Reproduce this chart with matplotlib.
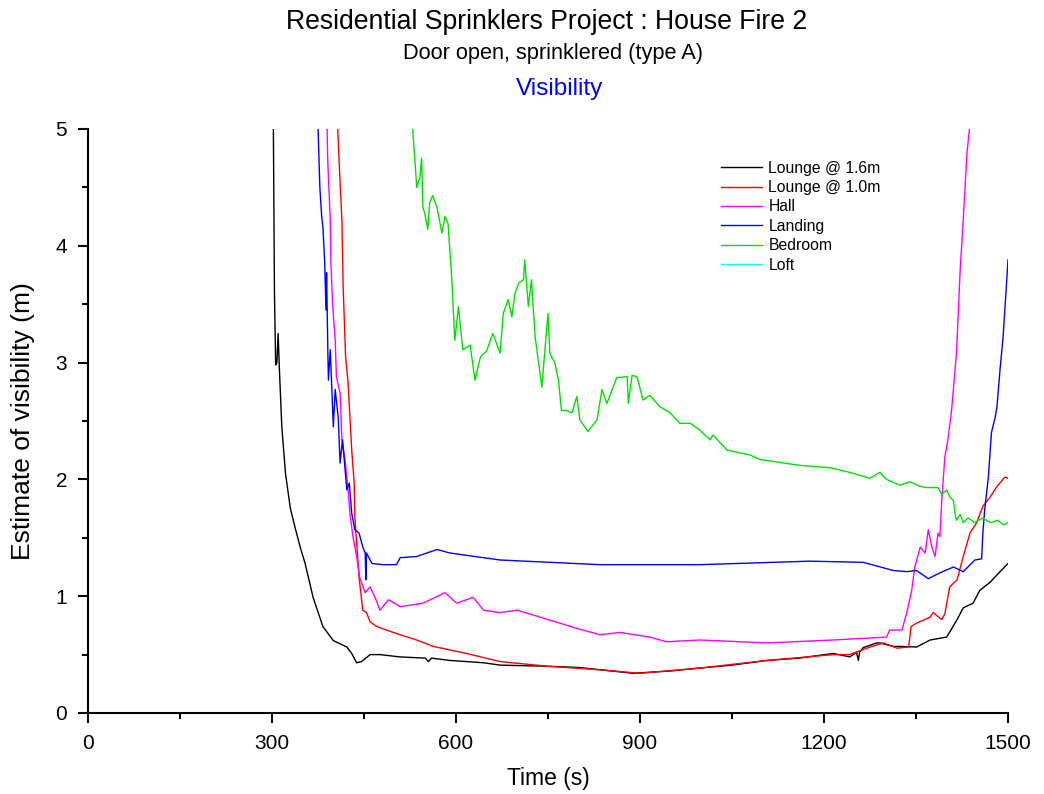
import numpy as np
import matplotlib
matplotlib.use("Agg")
import matplotlib.pyplot as plt
from matplotlib.ticker import MultipleLocator

plt.rcParams['font.family'] = ['Liberation Sans', 'DejaVu Sans']

# values (time in s, visibility in m)
lounge16_t = [302, 304, 306, 308, 310, 312, 316, 322, 330, 338, 346, 354, 367, 383, 400, 422, 430,
              438, 446, 460, 476, 509, 550, 555, 560, 590, 645, 672, 750, 800, 835, 889, 950,
              998, 1050, 1107, 1160, 1215, 1242, 1253, 1256, 1258, 1264, 1286, 1291, 1313, 1324,
              1351, 1373, 1400, 1417, 1427, 1443, 1454, 1471, 1487, 1500]
lounge16_v = [5.2, 3.6, 2.98, 3.0, 3.25, 2.95, 2.45, 2.05, 1.75, 1.58, 1.42, 1.28, 0.99, 0.74, 0.62,
              0.565, 0.51, 0.43, 0.44, 0.50, 0.50, 0.48, 0.47, 0.44, 0.47, 0.45, 0.43, 0.41, 0.40,
              0.39, 0.37, 0.34, 0.36, 0.385, 0.41, 0.45, 0.47, 0.51, 0.48, 0.52, 0.45, 0.52, 0.56,
              0.60, 0.60, 0.57, 0.57, 0.565, 0.625, 0.65, 0.80, 0.90, 0.94, 1.05, 1.12, 1.21, 1.28]

lounge10_t = [405, 408, 411, 414, 416, 420, 424, 430, 434, 435, 438, 442, 448, 454, 460, 471, 503,
              536, 563, 617, 672, 750, 835, 900, 998, 1107, 1215, 1242, 1275, 1297, 1319, 1338,
              1342, 1351, 1373, 1378, 1392, 1397, 1405, 1417, 1427, 1438, 1449, 1459, 1471, 1482,
              1495, 1500]
lounge10_v = [5.3, 4.9, 4.54, 4.22, 3.65, 3.05, 2.83, 2.25, 1.97, 1.68, 1.46, 1.16, 0.88, 0.86,
              0.78, 0.74, 0.68, 0.625, 0.57, 0.51, 0.44, 0.40, 0.37, 0.34, 0.385, 0.45, 0.50, 0.50,
              0.565, 0.60, 0.555, 0.565, 0.74, 0.77, 0.82, 0.86, 0.80, 0.85, 1.08, 1.14, 1.34, 1.54,
              1.63, 1.77, 1.85, 1.94, 2.02, 2.01]

hall_t = [389, 391, 395, 396, 399, 403, 405, 411, 414, 419, 424, 427, 432, 438, 443, 452, 460, 468,
          476, 490, 509, 546, 582, 601, 628, 645, 672, 700, 750, 800, 835, 867, 916, 943, 998,
          1107, 1215, 1302, 1307, 1327, 1335, 1343, 1348, 1357, 1365, 1370, 1376, 1381, 1386,
          1389, 1392, 1397, 1402, 1408, 1416, 1422, 1427, 1433, 1437, 1441]
hall_v = [5.2, 4.71, 4.22, 3.85, 3.48, 3.2, 2.88, 2.74, 2.34, 2.17, 1.91, 1.71, 1.51, 1.34, 1.16,
          1.03, 1.08, 0.99, 0.88, 0.97, 0.91, 0.94, 1.03, 0.94, 0.99, 0.88, 0.86, 0.88, 0.80, 0.72,
          0.67, 0.69, 0.65, 0.61, 0.625, 0.60, 0.625, 0.65, 0.71, 0.71, 0.86, 1.05, 1.25, 1.42,
          1.37, 1.57, 1.42, 1.34, 1.54, 1.51, 1.82, 2.19, 2.34, 2.59, 3.08, 3.79, 4.22, 4.79,
          4.99, 5.2]

landing_t = [374, 378, 381, 383, 386, 388, 389, 391, 392, 395, 400, 403, 408, 411, 415, 422, 426,
             430, 435, 442, 448, 452, 453, 454, 463, 481, 503, 509, 536, 569, 590, 617, 672,
             835, 998, 1177, 1264, 1313, 1335, 1351, 1370, 1389, 1411, 1427, 1446, 1457, 1459,
             1462, 1468, 1473, 1479, 1482, 1487, 1492, 1498, 1500]
landing_v = [5.2, 4.50, 4.25, 4.16, 3.85, 3.45, 3.77, 3.11, 2.85, 3.11, 2.45, 2.77, 2.53, 2.14,
             2.34, 1.91, 1.97, 1.71, 1.57, 1.54, 1.42, 1.37, 1.14, 1.37, 1.28, 1.27, 1.27, 1.33,
             1.34, 1.40, 1.37, 1.35, 1.31, 1.27, 1.27, 1.30, 1.29, 1.22, 1.21, 1.22, 1.15, 1.20,
             1.25, 1.21, 1.31, 1.32, 1.54, 1.74, 2.02, 2.40, 2.53, 2.62, 2.94, 3.22, 3.71, 3.88]

bedroom_t = [529, 533, 536, 541, 544, 546, 549, 554, 557, 562, 569, 577, 582, 587, 593, 598, 604,
             611, 623, 631, 640, 650, 660, 672, 677, 685, 691, 696, 702, 710, 712, 718, 723, 729,
             740, 748, 750, 753, 761, 767, 772, 780, 789, 797, 802, 815, 830, 838, 846, 862, 879,
             881, 887, 895, 905, 916, 933, 949, 965, 982, 998, 1014, 1019, 1042, 1079, 1096, 1161,
             1210, 1242, 1275, 1291, 1302, 1324, 1340, 1357, 1367, 1386, 1392, 1400, 1405, 1411,
             1414, 1416, 1422, 1427, 1435, 1446, 1459, 1471, 1484, 1492, 1500]
bedroom_v = [5.02, 4.73, 4.50, 4.58, 4.75, 4.33, 4.28, 4.14, 4.37, 4.43, 4.33, 4.11, 4.25, 4.19,
             3.73, 3.19, 3.48, 3.11, 3.15, 2.85, 3.05, 3.10, 3.25, 3.08, 3.42, 3.54, 3.39, 3.59,
             3.68, 3.71, 3.88, 3.48, 3.71, 3.22, 2.79, 3.30, 3.42, 3.08, 3.00, 2.85, 2.59, 2.59,
             2.57, 2.71, 2.51, 2.41, 2.51, 2.77, 2.65, 2.87, 2.88, 2.65, 2.89, 2.88, 2.68, 2.72,
             2.62, 2.57, 2.48, 2.48, 2.42, 2.34, 2.38, 2.25, 2.21, 2.17, 2.12, 2.10, 2.06, 2.01,
             2.06, 2.00, 1.95, 1.98, 1.94, 1.93, 1.93, 1.87, 1.91, 1.85, 1.82, 1.70, 1.65, 1.70,
             1.63, 1.67, 1.63, 1.67, 1.63, 1.65, 1.61, 1.63]

loft_t = []
loft_v = []

names = ['Lounge @ 1.6m', 'Lounge @ 1.0m', 'Hall', 'Landing', 'Bedroom', 'Loft']
colors = ['black', 'red', 'magenta', 'blue', '#00e000', 'cyan']
series = [(lounge16_t, lounge16_v), (lounge10_t, lounge10_v), (hall_t, hall_v),
          (landing_t, landing_v), (bedroom_t, bedroom_v), (loft_t, loft_v)]

fig = plt.figure(figsize=(10.44, 7.94), dpi=100)
ax = fig.add_axes([88/1044, 1-713/794, 920/1044, 584/794])

for (t, v), name, c in zip(series, names, colors):
    ax.plot(t, v, color=c, lw=1.0, label=name)

ax.set_xlim(0, 1500)
ax.set_ylim(0, 5)
ax.xaxis.set_major_locator(MultipleLocator(300))
ax.xaxis.set_minor_locator(MultipleLocator(150))
ax.yaxis.set_major_locator(MultipleLocator(1))
ax.yaxis.set_minor_locator(MultipleLocator(0.5))
ax.tick_params(which='major', direction='out', length=7, width=1.5, labelsize=15, pad=8)
ax.tick_params(which='minor', direction='out', length=4, width=1.5)
for s in ['top', 'right']:
    ax.spines[s].set_visible(False)
for s in ['left', 'bottom']:
    ax.spines[s].set_linewidth(1.5)

ax.set_xlabel('Time (s)', fontsize=16.5)
ax.xaxis.set_label_coords(0.5, -0.092)
ax.set_ylabel('Estimate of visibility (m)', fontsize=19)
ax.yaxis.set_label_coords(-0.058, 0.5)

ax.legend(loc='upper left', bbox_to_anchor=(0.673, 0.970), frameon=False, fontsize=11.3,
          handlelength=2.6, labelspacing=0.28, handletextpad=0.4)

fig.text(0.524, 0.972, 'Residential Sprinklers Project : House Fire 2', ha='center', va='center', fontsize=19.2)
fig.text(0.530, 0.933, 'Door open, sprinklered (type A)', ha='center', va='center', fontsize=15.7)
fig.text(0.536, 0.888, 'Visibility', ha='center', va='center', fontsize=17.6, color='blue')

fig.savefig('out.png', dpi=100)
